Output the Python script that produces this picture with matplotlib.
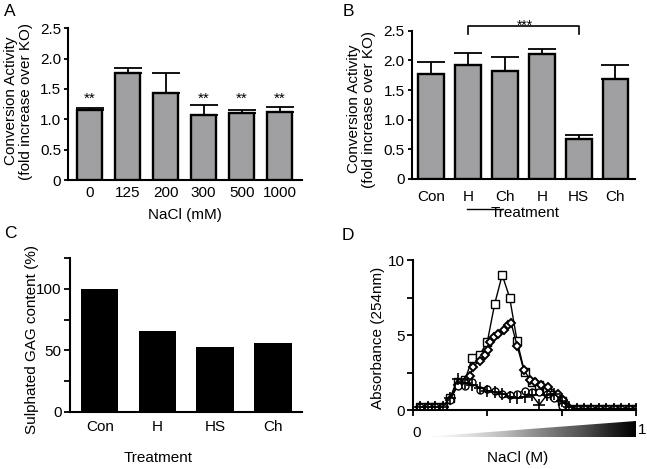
import numpy as np
import matplotlib
matplotlib.use('Agg')
import matplotlib.pyplot as plt
from matplotlib.patches import Polygon

plt.rcParams['font.family'] = ['Liberation Sans', 'DejaVu Sans']
plt.rcParams['font.size'] = 11

# A: conversion activity vs NaCl
nacl_mm = ['0', '125', '200', '300', '500', '1000']
act_a = [1.15, 1.76, 1.44, 1.07, 1.11, 1.12]
err_a = [0.04, 0.08, 0.32, 0.17, 0.05, 0.09]
stars_a = ['**', '', '', '**', '**', '**']

# B: conversion activity vs treatment
treat_b = ['Con', 'H', 'Ch', 'H', 'HS', 'Ch']
act_b = [1.77, 1.93, 1.82, 2.11, 0.67, 1.68]
err_b = [0.20, 0.20, 0.23, 0.08, 0.08, 0.24]

# C: sulphated GAG content
treat_c = ['Con', 'H', 'HS', 'Ch']
gag_c = [100, 66, 52.5, 55.7]

# D: elution profiles
frac = list(range(1, 31))
squares = [0.2, 0.2, 0.2, 0.2, 0.8, 1.9, 2.0, 3.5, 3.7, 4.55, 7.1, 9.0, 7.5, 4.6, 2.55,
           1.9, 1.65, 1.3, 1.0, 0.6, 0.1, 0.1, 0.1, 0.1, 0.1, 0.1, 0.1, 0.1, 0.1, 0.1]
circles = [0.2, 0.2, 0.2, 0.2, 0.7, 1.6, 1.6, 1.9, 1.35, 1.4, 1.25, 1.1, 1.0, 1.1, 1.3,
           1.2, 1.2, 1.1, 0.8, 0.3, 0.1, 0.1, 0.1, 0.1, 0.1, 0.1, 0.1, 0.1, 0.1, 0.1]
pluses = [0.2, 0.2, 0.2, 0.2, 0.8, 2.1, 1.8, 1.7, 1.5, 1.3, 1.2, 1.1, 0.9, 0.8, 0.9,
          1.0, 0.35, 1.0, 1.1, 0.6, 0.2, 0.1, 0.1, 0.1, 0.1, 0.1, 0.1, 0.1, 0.1, 0.1]
diam_x = [1, 2, 3, 4, 5, 6, 7, 7.7, 8.1, 9, 9.7, 10.1, 10.4, 10.9, 11.5, 12.2, 12.8, 13.2,
          14, 14.9, 15.8, 16.4, 17.2, 18.2, 19.5, 20.2, 20.9, 22, 23, 24, 25, 26, 27, 28, 29, 30]
diam_y = [0.2, 0.2, 0.2, 0.2, 0.7, 1.7, 1.9, 2.3, 2.9, 3.3, 3.7, 4.0, 4.55, 4.9, 5.1, 5.33, 5.67, 5.8,
          4.3, 2.67, 2.0, 1.9, 1.7, 1.55, 1.1, 0.67, 0.2, 0.1, 0.1, 0.1, 0.1, 0.1, 0.1, 0.1, 0.1, 0.1]

W, H = 647, 469
fig = plt.figure(figsize=(W / 100, H / 100), dpi=100)


def px_axes(l, t, r, b):
    return fig.add_axes([l / W, 1 - b / H, (r - l) / W, (b - t) / H])


def style(ax):
    for s in ['top', 'right']:
        ax.spines[s].set_visible(False)
    for s in ['left', 'bottom']:
        ax.spines[s].set_linewidth(1.5)
    ax.tick_params(axis='y', which='both', direction='out', length=3, width=1.3, pad=2)
    ax.tick_params(axis='x', length=0)


gray = '#a0a0a2'

# ---- A
axA = px_axes(68.3, 28.3, 301.7, 180)
style(axA)
xa = np.arange(len(nacl_mm))
axA.bar(xa, act_a, width=0.67, color=gray, edgecolor='black', linewidth=1.7, zorder=3)
axA.errorbar(xa, act_a, yerr=[[0] * len(err_a), err_a], fmt='none', ecolor='black',
             elinewidth=1.3, capsize=10, capthick=1.3, zorder=2)
for i, s in enumerate(stars_a):
    if s:
        axA.text(xa[i], 1.22, s, ha='center', va='bottom', fontsize=11)
axA.set_xlim(-0.56, 5.58)
axA.set_ylim(0, 2.5)
axA.set_yticks([0, 0.5, 1.0, 1.5, 2.0, 2.5])
axA.set_yticklabels(['0', '0.5', '1.0', '1.5', '2.0', '2.5'])
axA.set_xticks(xa)
axA.set_xticklabels(nacl_mm)
axA.tick_params(axis='x', pad=4)

# ---- B
axB = px_axes(411.7, 30.7, 635, 179)
style(axB)
xb = np.arange(len(treat_b))
axB.bar(xb, act_b, width=0.7, color=gray, edgecolor='black', linewidth=1.7, zorder=3)
axB.errorbar(xb, act_b, yerr=[[0] * len(err_b), err_b], fmt='none', ecolor='black',
             elinewidth=1.3, capsize=10, capthick=1.3, zorder=2)
axB.set_xlim(-0.53, 5.53)
axB.set_ylim(0, 2.5)
axB.set_yticks([0, 0.5, 1.0, 1.5, 2.0, 2.5])
axB.set_yticklabels(['0', '0.5', '1.0', '1.5', '2.0', '2.5'])
axB.set_xticks(xb)
axB.set_xticklabels(treat_b)
axB.tick_params(axis='x', pad=8)
axB.plot([1, 1, 4, 4], [2.44, 2.58, 2.58, 2.44], color='black', lw=1.2, clip_on=False)
axB.text(2.55, 2.47, '***', ha='center', va='bottom', fontsize=10)
axB.plot([0.96, 1.96], [-0.51, -0.51], color='black', lw=1.0, clip_on=False)

# ---- C
axC = px_axes(70, 258.3, 301.7, 411.7)
style(axC)
xc = np.arange(len(treat_c))
axC.bar(xc, gag_c, width=0.65, color='black', zorder=3)
axC.set_xlim(-0.515, 3.5)
axC.set_ylim(0, 125)
axC.set_yticks([0, 50, 100])
axC.set_yticks([25, 75, 125], minor=True)
axC.tick_params(axis='y', which='both', length=4)
axC.set_xticks(xc)
axC.set_xticklabels(treat_c)
axC.tick_params(axis='x', pad=6)

# ---- D
axD = px_axes(413, 260, 636, 410)
style(axD)
axD.plot(frac, squares, color='black', lw=1.0, marker='s', ms=5.5, mfc='white', mec='black', mew=1.0)
axD.plot(diam_x, diam_y, color='black', lw=1.0, marker='D', ms=4.5, mfc='white', mec='black', mew=1.4)
axD.plot(frac, circles, color='black', lw=1.0, marker='o', ms=5, mfc='white', mec='black', mew=1.0)
axD.plot(frac, pluses, color='black', lw=1.0, marker='+', ms=8, mec='black', mew=1.2)
axD.set_xlim(0, 30)
axD.set_ylim(0, 10)
axD.set_yticks([0, 5, 10])
axD.set_yticks([2.5, 7.5], minor=True)
axD.tick_params(axis='y', which='both', length=4)
axD.set_xticks([0, 10, 20, 30])
axD.set_xticklabels([])
axD.tick_params(axis='x', length=4, width=1.3, direction='out')

# gradient wedge
axG = px_axes(423, 421, 636, 437)
grad = np.linspace(0, 1, 256).reshape(1, -1)
im = axG.imshow(grad, cmap='Greys', aspect='auto', extent=[0, 1, 0, 1], vmin=0, vmax=1)
tri = Polygon([[0, 0], [1, 1], [1, 0]], closed=True, transform=axG.transData, facecolor='none')
im.set_clip_path(tri)
axG.set_xlim(0, 1)
axG.set_ylim(0, 1)
axG.axis('off')
fig.text(416.7 / W, 1 - 432.7 / H, '0', ha='center', va='center')
fig.text(641.7 / W, 1 - 430 / H, '1', ha='center', va='center')

# axis labels
fig.text(18.5 / W, 1 - 101 / H, 'Conversion Activity\n(fold increase over KO)', rotation=90,
         ha='center', va='center', multialignment='center', linespacing=1.05)
fig.text(361.7 / W, 1 - 109 / H, 'Conversion Activity\n(fold increase over KO)', rotation=90,
         ha='center', va='center', multialignment='center', linespacing=1.05)
fig.text(31.7 / W, 1 - 340 / H, 'Sulphated GAG content (%)', rotation=90, ha='center', va='center')
fig.text(378.3 / W, 1 - 337.5 / H, 'Absorbance (254nm)', rotation=90, ha='center', va='center')
fig.text(185 / W, 1 - 215 / H, 'NaCl (mM)', ha='center', va='center')
fig.text(525 / W, 1 - 213.3 / H, 'Treatment', ha='center', va='center')
fig.text(158.3 / W, 1 - 458.3 / H, 'Treatment', ha='center', va='center')
fig.text(518 / W, 1 - 458 / H, 'NaCl (M)', ha='center', va='center')

# panel letters
for lab, x, y in [('A', 10, 12), ('B', 348, 12), ('C', 10, 233), ('D', 348, 235)]:
    fig.text(x / W, 1 - y / H, lab, ha='center', va='center', fontsize=12.5)

fig.savefig('out.png', dpi=100)
